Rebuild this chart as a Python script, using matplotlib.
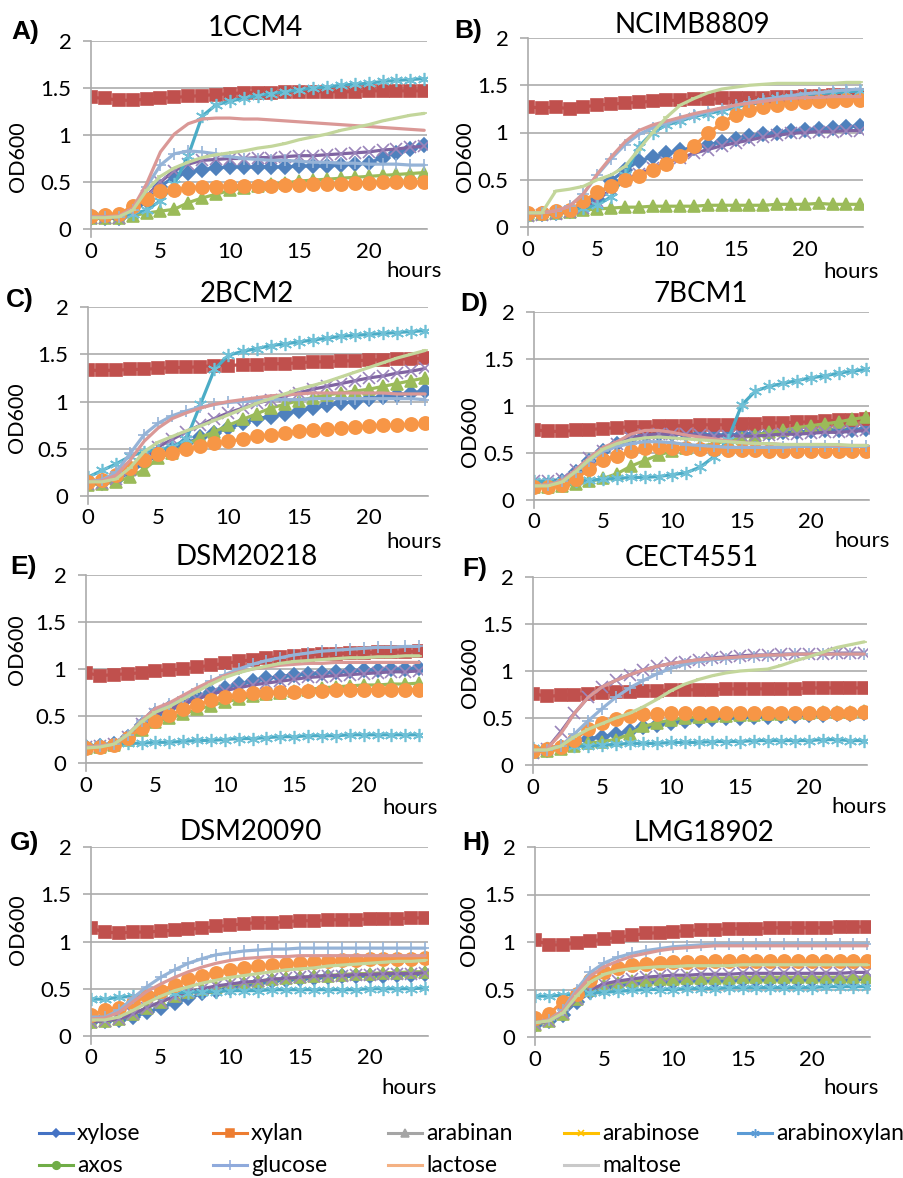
import matplotlib
matplotlib.use('Agg')
import matplotlib.pyplot as plt

plt.rcParams['font.family'] = ['Lato', 'DejaVu Sans']

# --- data: OD600 readings per hour, one row per strain (A..H) ---
hours = [0, 1, 2, 3, 4, 5, 6, 7, 8, 9, 10, 11, 12, 13, 14, 15, 16, 17, 18, 19, 20, 21, 22, 23, 24]
strains = ['1CCM4', 'NCIMB8809', '2BCM2', '7BCM1', 'DSM20218', 'CECT4551', 'DSM20090', 'LMG18902']
panel_tags = ['A)', 'B)', 'C)', 'D)', 'E)', 'F)', 'G)', 'H)']
y_ticks = [0, 0.5, 1, 1.5, 2]
x_ticks = [0, 5, 10, 15, 20]

xylose = [
    [0.12, 0.12, 0.12, 0.17, 0.30, 0.45, 0.56, 0.60, 0.63, 0.65, 0.66, 0.66, 0.66, 0.66, 0.66, 0.67, 0.67, 0.67, 0.68, 0.69, 0.70, 0.76, 0.81, 0.85, 0.89],
    [0.13, 0.14, 0.15, 0.17, 0.20, 0.30, 0.49, 0.60, 0.70, 0.74, 0.78, 0.81, 0.84, 0.87, 0.90, 0.93, 0.96, 0.98, 1.00, 1.02, 1.03, 1.04, 1.05, 1.06, 1.07],
    [0.13, 0.14, 0.17, 0.25, 0.35, 0.43, 0.50, 0.56, 0.62, 0.67, 0.72, 0.77, 0.82, 0.84, 0.87, 0.90, 0.93, 0.96, 0.98, 1.00, 1.03, 1.05, 1.07, 1.09, 1.11],
    [0.15, 0.16, 0.20, 0.30, 0.42, 0.52, 0.60, 0.66, 0.69, 0.70, 0.70, 0.70, 0.70, 0.69, 0.69, 0.70, 0.70, 0.71, 0.72, 0.72, 0.73, 0.74, 0.75, 0.75, 0.76],
    [0.17, 0.18, 0.20, 0.28, 0.40, 0.52, 0.58, 0.65, 0.71, 0.76, 0.80, 0.84, 0.87, 0.90, 0.92, 0.94, 0.95, 0.96, 0.97, 0.98, 0.99, 0.99, 1.00, 1.00, 1.01],
    [0.15, 0.16, 0.19, 0.24, 0.28, 0.30, 0.33, 0.36, 0.40, 0.43, 0.45, 0.47, 0.48, 0.49, 0.50, 0.50, 0.51, 0.51, 0.52, 0.52, 0.53, 0.53, 0.54, 0.54, 0.55],
    [0.15, 0.16, 0.17, 0.20, 0.25, 0.30, 0.35, 0.40, 0.45, 0.48, 0.51, 0.54, 0.56, 0.58, 0.59, 0.60, 0.61, 0.62, 0.63, 0.63, 0.64, 0.64, 0.65, 0.65, 0.66],
    [0.13, 0.17, 0.23, 0.37, 0.47, 0.52, 0.55, 0.56, 0.57, 0.58, 0.58, 0.59, 0.59, 0.59, 0.59, 0.60, 0.60, 0.60, 0.60, 0.60, 0.60, 0.60, 0.60, 0.60, 0.61],
]
xylan = [
    [1.40, 1.39, 1.37, 1.37, 1.38, 1.39, 1.40, 1.41, 1.42, 1.43, 1.44, 1.45, 1.45, 1.45, 1.46, 1.46, 1.46, 1.46, 1.46, 1.46, 1.47, 1.47, 1.47, 1.47, 1.47],
    [1.27, 1.26, 1.27, 1.25, 1.27, 1.29, 1.30, 1.31, 1.32, 1.33, 1.34, 1.34, 1.35, 1.35, 1.36, 1.36, 1.37, 1.37, 1.38, 1.38, 1.39, 1.39, 1.40, 1.40, 1.40],
    [1.33, 1.33, 1.33, 1.34, 1.34, 1.35, 1.36, 1.36, 1.37, 1.38, 1.38, 1.39, 1.39, 1.40, 1.40, 1.41, 1.42, 1.42, 1.43, 1.43, 1.44, 1.44, 1.45, 1.45, 1.46],
    [0.75, 0.73, 0.73, 0.74, 0.75, 0.76, 0.77, 0.78, 0.78, 0.79, 0.79, 0.79, 0.80, 0.80, 0.80, 0.81, 0.81, 0.82, 0.82, 0.83, 0.83, 0.84, 0.85, 0.85, 0.86],
    [0.96, 0.93, 0.94, 0.95, 0.96, 0.98, 0.99, 1.00, 1.02, 1.04, 1.06, 1.08, 1.10, 1.12, 1.13, 1.14, 1.15, 1.16, 1.16, 1.17, 1.17, 1.18, 1.18, 1.18, 1.19],
    [0.76, 0.73, 0.74, 0.75, 0.76, 0.77, 0.78, 0.78, 0.79, 0.79, 0.80, 0.80, 0.80, 0.80, 0.81, 0.81, 0.81, 0.81, 0.81, 0.81, 0.82, 0.82, 0.82, 0.82, 0.82],
    [1.14, 1.10, 1.09, 1.10, 1.10, 1.11, 1.12, 1.13, 1.14, 1.16, 1.17, 1.19, 1.20, 1.20, 1.21, 1.22, 1.22, 1.23, 1.23, 1.23, 1.24, 1.24, 1.24, 1.25, 1.25],
    [1.02, 0.97, 0.97, 0.99, 1.01, 1.03, 1.05, 1.07, 1.09, 1.10, 1.11, 1.12, 1.13, 1.13, 1.14, 1.14, 1.14, 1.15, 1.15, 1.15, 1.15, 1.15, 1.16, 1.16, 1.16],
]
arabinan = [
    [0.12, 0.12, 0.12, 0.14, 0.17, 0.19, 0.21, 0.28, 0.33, 0.37, 0.41, 0.44, 0.46, 0.48, 0.49, 0.51, 0.52, 0.53, 0.54, 0.55, 0.56, 0.57, 0.58, 0.59, 0.60],
    [0.13, 0.14, 0.15, 0.16, 0.18, 0.19, 0.20, 0.21, 0.21, 0.22, 0.22, 0.22, 0.22, 0.23, 0.23, 0.23, 0.23, 0.23, 0.24, 0.24, 0.24, 0.25, 0.24, 0.24, 0.24],
    [0.12, 0.13, 0.15, 0.20, 0.28, 0.40, 0.46, 0.54, 0.62, 0.68, 0.75, 0.81, 0.87, 0.93, 0.97, 1.01, 1.04, 1.07, 1.09, 1.11, 1.13, 1.16, 1.19, 1.22, 1.25],
    [0.14, 0.14, 0.15, 0.17, 0.20, 0.23, 0.28, 0.36, 0.42, 0.48, 0.52, 0.55, 0.57, 0.60, 0.63, 0.66, 0.69, 0.72, 0.74, 0.77, 0.79, 0.81, 0.83, 0.86, 0.88],
    [0.16, 0.17, 0.19, 0.25, 0.35, 0.44, 0.48, 0.52, 0.57, 0.61, 0.65, 0.68, 0.71, 0.73, 0.75, 0.77, 0.78, 0.80, 0.81, 0.82, 0.83, 0.83, 0.84, 0.84, 0.85],
    [0.14, 0.15, 0.17, 0.20, 0.23, 0.25, 0.27, 0.33, 0.41, 0.45, 0.48, 0.50, 0.51, 0.52, 0.52, 0.53, 0.53, 0.54, 0.54, 0.55, 0.55, 0.56, 0.56, 0.56, 0.57],
    [0.15, 0.16, 0.18, 0.23, 0.30, 0.36, 0.42, 0.47, 0.50, 0.52, 0.54, 0.56, 0.58, 0.60, 0.61, 0.62, 0.63, 0.64, 0.65, 0.66, 0.66, 0.67, 0.67, 0.68, 0.68],
    [0.13, 0.17, 0.24, 0.40, 0.50, 0.55, 0.57, 0.59, 0.60, 0.61, 0.61, 0.62, 0.62, 0.62, 0.62, 0.63, 0.63, 0.63, 0.63, 0.63, 0.63, 0.63, 0.63, 0.63, 0.63],
]
arabinose = [
    [0.12, 0.12, 0.12, 0.18, 0.35, 0.50, 0.62, 0.69, 0.73, 0.74, 0.75, 0.75, 0.76, 0.76, 0.77, 0.78, 0.78, 0.79, 0.80, 0.81, 0.82, 0.84, 0.85, 0.87, 0.88],
    [0.12, 0.13, 0.14, 0.16, 0.20, 0.28, 0.40, 0.50, 0.56, 0.62, 0.68, 0.73, 0.78, 0.82, 0.86, 0.89, 0.92, 0.95, 0.97, 0.99, 1.00, 1.01, 1.01, 1.02, 1.02],
    [0.13, 0.14, 0.18, 0.28, 0.40, 0.52, 0.60, 0.68, 0.75, 0.82, 0.88, 0.93, 0.98, 1.02, 1.06, 1.09, 1.13, 1.16, 1.19, 1.22, 1.25, 1.27, 1.30, 1.32, 1.35],
    [0.20, 0.20, 0.22, 0.32, 0.45, 0.52, 0.60, 0.66, 0.69, 0.70, 0.70, 0.70, 0.69, 0.68, 0.68, 0.68, 0.68, 0.69, 0.70, 0.70, 0.71, 0.72, 0.72, 0.73, 0.74],
    [0.17, 0.18, 0.20, 0.28, 0.42, 0.52, 0.57, 0.63, 0.68, 0.73, 0.77, 0.80, 0.83, 0.85, 0.87, 0.89, 0.91, 0.92, 0.93, 0.94, 0.95, 0.96, 0.97, 0.97, 0.98],
    [0.13, 0.17, 0.35, 0.55, 0.72, 0.83, 0.90, 0.96, 1.01, 1.05, 1.08, 1.10, 1.12, 1.14, 1.15, 1.16, 1.17, 1.17, 1.18, 1.18, 1.18, 1.18, 1.19, 1.19, 1.19],
    [0.15, 0.16, 0.18, 0.23, 0.30, 0.36, 0.42, 0.47, 0.50, 0.53, 0.55, 0.57, 0.58, 0.60, 0.61, 0.62, 0.63, 0.64, 0.64, 0.65, 0.65, 0.66, 0.66, 0.66, 0.67],
    [0.14, 0.17, 0.25, 0.40, 0.50, 0.56, 0.59, 0.61, 0.63, 0.64, 0.65, 0.65, 0.66, 0.66, 0.66, 0.67, 0.67, 0.67, 0.67, 0.67, 0.67, 0.67, 0.67, 0.68, 0.68],
]
arabinoxylan = [
    [0.15, 0.15, 0.15, 0.16, 0.20, 0.30, 0.48, 0.78, 1.20, 1.32, 1.36, 1.39, 1.42, 1.44, 1.46, 1.48, 1.50, 1.51, 1.53, 1.54, 1.55, 1.57, 1.58, 1.59, 1.60],
    [0.13, 0.14, 0.15, 0.17, 0.20, 0.23, 0.32, 0.55, 0.85, 1.00, 1.08, 1.12, 1.17, 1.20, 1.23, 1.27, 1.30, 1.33, 1.36, 1.38, 1.40, 1.41, 1.42, 1.43, 1.44],
    [0.20, 0.27, 0.34, 0.42, 0.47, 0.49, 0.52, 0.60, 0.97, 1.34, 1.49, 1.53, 1.56, 1.59, 1.61, 1.63, 1.65, 1.67, 1.69, 1.70, 1.71, 1.72, 1.73, 1.74, 1.75],
    [0.20, 0.20, 0.20, 0.20, 0.21, 0.22, 0.23, 0.24, 0.24, 0.25, 0.27, 0.29, 0.35, 0.46, 0.64, 1.01, 1.16, 1.21, 1.24, 1.27, 1.30, 1.32, 1.35, 1.37, 1.39],
    [0.18, 0.19, 0.20, 0.21, 0.21, 0.22, 0.22, 0.23, 0.24, 0.24, 0.25, 0.26, 0.26, 0.27, 0.28, 0.28, 0.29, 0.29, 0.29, 0.30, 0.30, 0.30, 0.30, 0.30, 0.30],
    [0.18, 0.18, 0.19, 0.20, 0.20, 0.21, 0.22, 0.23, 0.23, 0.23, 0.24, 0.24, 0.24, 0.25, 0.25, 0.25, 0.26, 0.26, 0.26, 0.26, 0.26, 0.27, 0.27, 0.26, 0.26],
    [0.39, 0.39, 0.41, 0.42, 0.43, 0.45, 0.46, 0.46, 0.47, 0.47, 0.48, 0.48, 0.48, 0.49, 0.49, 0.49, 0.49, 0.49, 0.49, 0.49, 0.50, 0.50, 0.50, 0.50, 0.51],
    [0.43, 0.43, 0.44, 0.45, 0.46, 0.47, 0.48, 0.49, 0.50, 0.50, 0.50, 0.51, 0.51, 0.51, 0.52, 0.52, 0.52, 0.52, 0.52, 0.52, 0.52, 0.53, 0.53, 0.53, 0.53],
]
axos = [
    [0.14, 0.15, 0.16, 0.24, 0.32, 0.40, 0.42, 0.44, 0.45, 0.45, 0.46, 0.46, 0.46, 0.46, 0.47, 0.47, 0.48, 0.48, 0.48, 0.49, 0.49, 0.50, 0.50, 0.50, 0.50],
    [0.15, 0.15, 0.17, 0.18, 0.27, 0.37, 0.43, 0.50, 0.54, 0.60, 0.67, 0.75, 0.86, 0.99, 1.10, 1.19, 1.24, 1.27, 1.29, 1.31, 1.32, 1.33, 1.33, 1.34, 1.34],
    [0.15, 0.17, 0.22, 0.30, 0.38, 0.44, 0.46, 0.50, 0.53, 0.56, 0.58, 0.60, 0.63, 0.65, 0.67, 0.69, 0.70, 0.71, 0.72, 0.73, 0.74, 0.75, 0.75, 0.76, 0.77],
    [0.14, 0.14, 0.16, 0.22, 0.33, 0.43, 0.47, 0.52, 0.55, 0.56, 0.55, 0.55, 0.54, 0.54, 0.53, 0.53, 0.53, 0.52, 0.52, 0.52, 0.52, 0.52, 0.52, 0.52, 0.52],
    [0.16, 0.17, 0.19, 0.27, 0.37, 0.45, 0.51, 0.57, 0.62, 0.67, 0.70, 0.72, 0.74, 0.75, 0.76, 0.76, 0.77, 0.77, 0.78, 0.78, 0.78, 0.78, 0.78, 0.78, 0.78],
    [0.15, 0.17, 0.19, 0.27, 0.38, 0.45, 0.49, 0.52, 0.54, 0.54, 0.55, 0.55, 0.55, 0.55, 0.55, 0.55, 0.55, 0.55, 0.55, 0.55, 0.55, 0.55, 0.55, 0.55, 0.56],
    [0.22, 0.28, 0.30, 0.35, 0.42, 0.48, 0.54, 0.60, 0.64, 0.67, 0.70, 0.72, 0.74, 0.75, 0.76, 0.77, 0.78, 0.79, 0.80, 0.80, 0.81, 0.81, 0.82, 0.82, 0.83],
    [0.20, 0.24, 0.37, 0.45, 0.60, 0.68, 0.73, 0.76, 0.77, 0.78, 0.79, 0.79, 0.79, 0.80, 0.80, 0.80, 0.80, 0.80, 0.80, 0.80, 0.80, 0.80, 0.80, 0.80, 0.80],
]
glucose = [
    [0.13, 0.13, 0.13, 0.20, 0.45, 0.68, 0.80, 0.83, 0.82, 0.80, 0.77, 0.75, 0.74, 0.73, 0.73, 0.72, 0.71, 0.71, 0.70, 0.70, 0.69, 0.69, 0.69, 0.68, 0.68],
    [0.15, 0.15, 0.17, 0.22, 0.35, 0.55, 0.72, 0.87, 0.98, 1.05, 1.10, 1.14, 1.18, 1.22, 1.25, 1.29, 1.32, 1.35, 1.37, 1.39, 1.41, 1.42, 1.44, 1.45, 1.46],
    [0.15, 0.17, 0.25, 0.45, 0.65, 0.77, 0.85, 0.90, 0.94, 0.97, 0.99, 1.00, 1.01, 1.02, 1.02, 1.02, 1.03, 1.03, 1.03, 1.03, 1.03, 1.03, 1.03, 1.03, 1.02],
    [0.15, 0.16, 0.20, 0.30, 0.42, 0.52, 0.57, 0.60, 0.62, 0.62, 0.61, 0.59, 0.58, 0.57, 0.56, 0.56, 0.56, 0.56, 0.56, 0.57, 0.57, 0.57, 0.57, 0.57, 0.57],
    [0.17, 0.18, 0.20, 0.30, 0.45, 0.57, 0.63, 0.70, 0.79, 0.87, 0.94, 1.00, 1.05, 1.09, 1.12, 1.15, 1.17, 1.19, 1.20, 1.21, 1.22, 1.23, 1.23, 1.24, 1.24],
    [0.15, 0.16, 0.20, 0.33, 0.47, 0.60, 0.72, 0.82, 0.90, 0.97, 1.03, 1.07, 1.10, 1.12, 1.13, 1.14, 1.15, 1.16, 1.17, 1.18, 1.18, 1.18, 1.18, 1.18, 1.18],
    [0.20, 0.20, 0.27, 0.40, 0.52, 0.62, 0.70, 0.77, 0.82, 0.86, 0.88, 0.90, 0.91, 0.92, 0.92, 0.93, 0.93, 0.93, 0.93, 0.93, 0.93, 0.93, 0.93, 0.93, 0.93],
    [0.15, 0.18, 0.28, 0.50, 0.68, 0.78, 0.84, 0.88, 0.91, 0.93, 0.95, 0.96, 0.97, 0.98, 0.98, 0.98, 0.98, 0.98, 0.98, 0.98, 0.98, 0.98, 0.98, 0.98, 0.98],
]
lactose = [
    [0.13, 0.13, 0.14, 0.22, 0.48, 0.82, 1.01, 1.12, 1.17, 1.18, 1.18, 1.17, 1.17, 1.16, 1.15, 1.14, 1.13, 1.12, 1.11, 1.10, 1.09, 1.08, 1.07, 1.06, 1.05],
    [0.15, 0.15, 0.17, 0.22, 0.35, 0.56, 0.74, 0.90, 1.02, 1.08, 1.12, 1.16, 1.20, 1.23, 1.26, 1.29, 1.31, 1.33, 1.35, 1.36, 1.37, 1.37, 1.38, 1.38, 1.38],
    [0.15, 0.16, 0.22, 0.38, 0.58, 0.72, 0.82, 0.88, 0.93, 0.97, 1.00, 1.02, 1.04, 1.06, 1.07, 1.08, 1.09, 1.09, 1.09, 1.09, 1.09, 1.09, 1.08, 1.08, 1.08],
    [0.15, 0.16, 0.20, 0.32, 0.45, 0.56, 0.62, 0.70, 0.74, 0.74, 0.72, 0.69, 0.67, 0.65, 0.63, 0.61, 0.60, 0.60, 0.59, 0.59, 0.59, 0.59, 0.58, 0.58, 0.58],
    [0.17, 0.18, 0.20, 0.30, 0.45, 0.58, 0.64, 0.72, 0.80, 0.87, 0.93, 0.97, 1.00, 1.02, 1.04, 1.05, 1.06, 1.06, 1.07, 1.07, 1.07, 1.07, 1.07, 1.07, 1.07],
    [0.15, 0.17, 0.33, 0.55, 0.72, 0.83, 0.90, 0.96, 1.01, 1.05, 1.08, 1.10, 1.12, 1.13, 1.14, 1.15, 1.16, 1.17, 1.17, 1.18, 1.18, 1.18, 1.18, 1.18, 1.18],
    [0.18, 0.19, 0.25, 0.36, 0.47, 0.55, 0.62, 0.68, 0.73, 0.77, 0.80, 0.82, 0.83, 0.84, 0.84, 0.85, 0.85, 0.85, 0.85, 0.85, 0.85, 0.85, 0.85, 0.85, 0.85],
    [0.15, 0.18, 0.27, 0.47, 0.64, 0.74, 0.80, 0.85, 0.88, 0.91, 0.93, 0.94, 0.95, 0.96, 0.96, 0.96, 0.96, 0.96, 0.96, 0.96, 0.96, 0.96, 0.96, 0.96, 0.96],
]
maltose = [
    [0.12, 0.12, 0.13, 0.20, 0.41, 0.56, 0.65, 0.71, 0.76, 0.79, 0.81, 0.83, 0.86, 0.88, 0.91, 0.95, 0.98, 1.01, 1.05, 1.08, 1.11, 1.15, 1.18, 1.21, 1.23],
    [0.15, 0.15, 0.38, 0.40, 0.43, 0.50, 0.55, 0.64, 0.82, 1.00, 1.16, 1.29, 1.36, 1.42, 1.46, 1.48, 1.50, 1.51, 1.52, 1.52, 1.52, 1.52, 1.52, 1.53, 1.53],
    [0.15, 0.15, 0.18, 0.30, 0.47, 0.57, 0.63, 0.69, 0.74, 0.80, 0.86, 0.92, 0.98, 1.03, 1.08, 1.13, 1.17, 1.21, 1.26, 1.31, 1.36, 1.41, 1.46, 1.50, 1.54],
    [0.15, 0.15, 0.19, 0.30, 0.43, 0.54, 0.60, 0.64, 0.66, 0.67, 0.66, 0.65, 0.64, 0.63, 0.62, 0.61, 0.60, 0.60, 0.59, 0.59, 0.59, 0.59, 0.59, 0.58, 0.58],
    [0.16, 0.17, 0.20, 0.30, 0.44, 0.54, 0.60, 0.68, 0.76, 0.84, 0.91, 0.96, 1.00, 1.03, 1.06, 1.08, 1.09, 1.10, 1.11, 1.12, 1.12, 1.13, 1.13, 1.14, 1.14],
    [0.16, 0.16, 0.20, 0.30, 0.38, 0.44, 0.50, 0.55, 0.62, 0.70, 0.79, 0.86, 0.91, 0.95, 0.98, 1.00, 1.01, 1.02, 1.06, 1.11, 1.15, 1.20, 1.25, 1.28, 1.31],
    [0.17, 0.17, 0.20, 0.27, 0.35, 0.42, 0.48, 0.52, 0.56, 0.59, 0.62, 0.64, 0.66, 0.68, 0.70, 0.71, 0.72, 0.74, 0.75, 0.76, 0.77, 0.78, 0.79, 0.79, 0.80],
    [0.15, 0.17, 0.25, 0.43, 0.58, 0.66, 0.70, 0.72, 0.73, 0.74, 0.74, 0.75, 0.75, 0.75, 0.75, 0.76, 0.76, 0.76, 0.76, 0.76, 0.76, 0.76, 0.76, 0.76, 0.76],
]

# series styles: name, data, line colour, marker, marker size, marker colour
series = [
    ('xylose', xylose, '#4F81BD', 'D', 7.5, '#4F81BD'),
    ('xylan', xylan, '#C0504D', 's', 9, '#C0504D'),
    ('arabinan', arabinan, '#9BBB59', '^', 9, '#9BBB59'),
    ('arabinose', arabinose, '#8064A2', 'x', 8, '#9A85BA'),
    ('arabinoxylan', arabinoxylan, '#4BACC6', (6, 2, 0), 9.5, '#6FC0D6'),
    ('axos', axos, '#F79646', 'o', 9.5, '#F79646'),
    ('glucose', glucose, '#95B3D7', '+', 9, '#95B3D7'),
    ('lactose', lactose, '#DA9896', '', 0, '#DA9896'),
    ('maltose', maltose, '#C3D69B', '_', 4, '#C3D69B'),
]

# legend (Excel 2013 palette, as in the original figure)
legend_items = [
    ('xylose', '#4472C4', 'D', 4),
    ('xylan', '#ED7D31', 's', 5.5),
    ('arabinan', '#A5A5A5', '^', 5.5),
    ('arabinose', '#FFC000', 'x', 5),
    ('arabinoxylan', '#5B9BD5', (6, 2, 0), 6),
    ('axos', '#70AD47', 'o', 5.5),
    ('glucose', '#8FAADC', '+', 7),
    ('lactose', '#F4B183', '_', 5),
    ('maltose', '#C9C9C9', '_', 5),
]

W, H = 904, 1178
# panel boxes in pixels: left, top, right, bottom
boxes = [(91, 41, 427, 229), (528, 38, 863, 227),
         (88, 307, 428, 496), (534, 312, 869, 500),
         (86, 575, 422, 763), (533, 577, 867, 765),
         (91, 847, 428, 1036), (535, 847, 870, 1037)]
title_pos = [(255, 28), (692, 25), (247, 294), (701, 294), (247, 557), (692, 558), (251, 832), (704, 833)]
tag_pos = [(25, 32), (468, 31), (20, 300), (474, 304), (24, 567), (475, 569), (25, 843), (476, 843)]
ylab_pos = [(18, 157), (465, 157), (17, 418), (470, 432), (17, 650), (470, 673), (18, 930), (469, 931)]
hours_pos = [(442, 271), (879, 272), (442, 542), (890, 541), (438, 808), (887, 807), (437, 1088), (879, 1088)]

grid_col = '#ABABAB'

fig = plt.figure(figsize=(W / 100, H / 100), dpi=100)


def ftxt(x, y, s, **kw):
    fig.text(x / W, 1 - y / H, s, **kw)


for i in range(8):
    l, t, r, b = boxes[i]
    ax = fig.add_axes([l / W, 1 - b / H, (r - l) / W, (b - t) / H])
    for name, data, col, mk, ms, mcol in series:
        ax.plot(hours, data[i], color=col, lw=2.3, marker=mk if mk else None,
                markersize=ms, markerfacecolor=mcol, markeredgecolor=mcol,
                markeredgewidth=1.2, solid_capstyle='round', solid_joinstyle='round')
    ax.set_xlim(0, 24.2)
    ax.set_ylim(0, 2)
    ax.set_yticks(y_ticks)
    ax.set_yticklabels(['0', '0.5', '1', '1.5', '2'])
    ax.set_xticks(x_ticks)
    ax.yaxis.grid(True, color=grid_col, lw=1.2)
    ax.set_axisbelow(True)
    for s in ['top', 'right']:
        ax.spines[s].set_visible(False)
    for s in ['left', 'bottom']:
        ax.spines[s].set_color(grid_col)
        ax.spines[s].set_linewidth(1.2)
    ax.tick_params(axis='y', length=6, width=1.2, color=grid_col, pad=8, labelsize=16)
    ax.tick_params(axis='x', length=0, pad=9, labelsize=16)
    # small stub of the vertical axis below zero, as Excel draws it
    ax.plot([0, 0], [0, -0.085], color=grid_col, lw=1.2, clip_on=False)

    ftxt(*title_pos[i], strains[i], fontsize=20, ha='center', va='center')
    ftxt(*tag_pos[i], panel_tags[i], fontsize=19, fontweight='bold',
         family=['Liberation Sans', 'DejaVu Sans'], ha='center', va='center')
    ftxt(*ylab_pos[i], 'OD600', fontsize=15.5, rotation=90, ha='center', va='center')
    ftxt(*hours_pos[i], 'hours', fontsize=16, ha='right', va='center')

# legend drawn in pixel coordinates
lax = fig.add_axes([0, 0, 1, 1])
lax.set_xlim(0, W)
lax.set_ylim(H, 0)
lax.axis('off')
col_x = [39, 213, 388, 564, 738]
row_y = [1133, 1165]
for k, (name, col, mk, ms) in enumerate(legend_items):
    x0 = col_x[k % 5]
    y0 = row_y[k // 5]
    lax.plot([x0, x0 + 34], [y0, y0], color=col, lw=2.2)
    lax.plot([x0 + 17], [y0], color=col, marker=mk, markersize=ms, markeredgewidth=1.1)
    lax.text(x0 + 38, y0, name, fontsize=16.5, ha='left', va='center')

fig.savefig('out.png', dpi=100)
